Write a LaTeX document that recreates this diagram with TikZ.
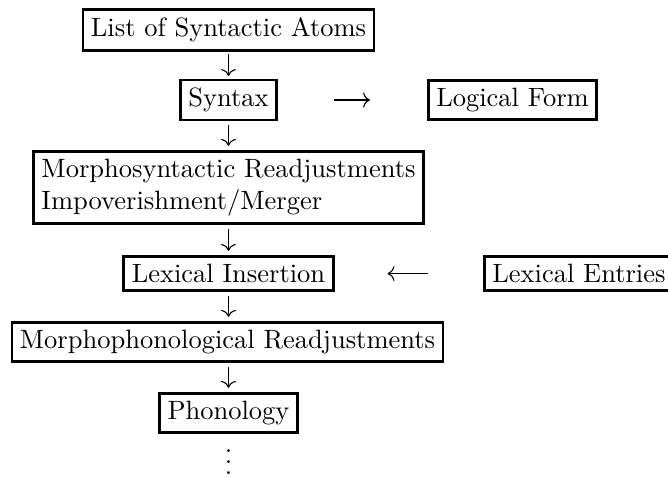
\documentclass[tikz,border=0pt]{standalone}
\usetikzlibrary{arrows.meta}
\begin{document}
\begin{tikzpicture}[x=0.3774pt,y=-0.3774pt,
  boxnode/.style={draw,line width=1.05pt,inner sep=3pt,font=\normalsize},
  arr/.style={line width=0.42pt,-{Computer Modern Rightarrow[length=2.6pt,width=5.6pt]}}]
\useasboundingbox (0,0) rectangle (668,477);
\node[boxnode] (atoms) at (228.5,30) {List of Syntactic Atoms};
\node[boxnode] (syn) at (228.5,100) {Syntax};
\node[boxnode] (lf) at (512.5,100) {Logical Form};
\node[boxnode,align=left] (ms) at (228.5,187.5) {Morphosyntactic Readjustments\\Impoverishment/Merger};
\node[boxnode] (li) at (228.5,273.5) {Lexical Insertion};
\node[boxnode,anchor=west] (le) at (483,273.5) {Lexical Entries};
\node[boxnode] (mp) at (227.5,342) {Morphophonological Readjustments};
\node[boxnode] (ph) at (228.5,413) {Phonology};
\node[inner sep=0pt,anchor=base] (dots) at (228.5,474) {$\vdots$};
\draw[arr,shorten <=1pt,shorten >=1pt] (atoms.south) -- (atoms.south |- syn.north);
\draw[arr,shorten <=1.5pt,shorten >=1.5pt] (syn.south) -- (syn.south |- ms.north);
\draw[arr,shorten <=1.5pt,shorten >=1.5pt] (ms.south -| li.north) -- (li.north);
\draw[arr,shorten <=1.5pt,shorten >=1.5pt] (li.south) -- (li.south |- mp.north);
\draw[arr,shorten <=1.5pt,shorten >=1.5pt] (mp.south -| ph.north) -- (ph.north);
\draw[arr,shorten <=21pt,shorten >=21.5pt] (syn.east) -- (lf.west);
\draw[arr,shorten <=20.8pt,shorten >=20pt] (le.west) -- (li.east);
\end{tikzpicture}
\end{document}
